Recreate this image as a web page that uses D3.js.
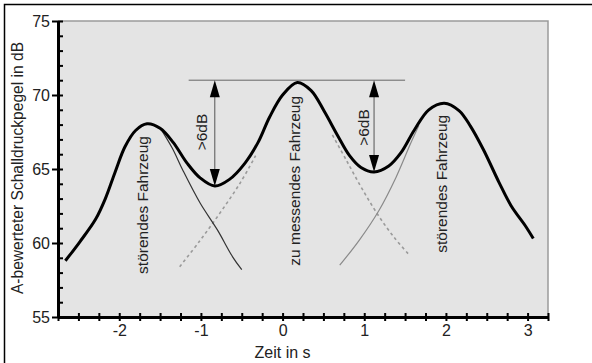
<!DOCTYPE html>
<html>
<head>
<meta charset="utf-8">
<script src="https://cdn.jsdelivr.net/npm/d3@7"></script>
<style>
  html, body { margin: 0; padding: 0; background: #fff; }
  svg { display: block; font-family: "Liberation Sans", Arial, sans-serif; }
</style>
</head>
<body>
<svg id="chart" width="592" height="363"></svg>
<script>
// Passing traffic: A-weighted level over time
const timeMain  = [-2.66, -2.48, -2.29, -2.17, -2.05, -1.93, -1.80, -1.66, -1.50, -1.34, -1.17, -1.01, -0.83, -0.65, -0.46, -0.30, -0.16, 0.00, 0.18, 0.35, 0.51, 0.67, 0.82, 0.96, 1.12, 1.30, 1.45, 1.61, 1.79, 1.98, 2.16, 2.30, 2.46, 2.65, 2.80, 2.98, 3.07];
const levelMain = [58.8, 60.1, 61.6, 63.0, 64.8, 66.5, 67.6, 68.05, 67.75, 66.8, 65.4, 64.4, 63.85, 64.3, 65.4, 66.8, 68.5, 70.0, 70.85, 70.3, 68.9, 67.3, 65.9, 65.1, 64.8, 65.2, 66.1, 67.6, 69.0, 69.45, 68.95, 67.9, 66.3, 64.1, 62.5, 61.1, 60.3];

// first disturbing vehicle, decaying flank
const timeDecay1  = [-1.50, -1.35, -1.22, -1.01, -0.80, -0.61, -0.50];
const levelDecay1 = [67.8, 66.4, 64.9, 62.7, 60.9, 59.05, 58.2];

// measured vehicle, rising flank
const timeRise0  = [-1.26, -1.02, -0.77, -0.52, -0.33];
const levelRise0 = [58.4, 60.1, 62.0, 64.05, 65.9];

// measured vehicle, decaying flank
const timeDecay0  = [0.61, 0.78, 0.98, 1.18, 1.37, 1.55];
const levelDecay0 = [67.3, 65.6, 63.6, 61.8, 60.35, 59.2];

// second disturbing vehicle, rising flank
const timeRise2  = [0.70, 0.94, 1.18, 1.39, 1.57, 1.67];
const levelRise2 = [58.5, 60.2, 62.2, 64.45, 66.75, 67.95];

const yTicks = [55, 60, 65, 70, 75];
const xTicks = [-2, -1, 0, 1, 2, 3];

// reference level and the two gaps
const refLevel = 71;
const refFrom = -1.15, refTo = 1.50;
const gapTimes = [-0.83, 1.12];
const gapLevels = [63.85, 64.8];
const gapLabel = ">6dB";
const gapLabelPos = [[-0.99, 67.5], [0.99, 67.8]];

const vehicleLabels = ["störendes Fahrzeug", "zu messendes Fahrzeug", "störendes Fahrzeug"];
const vehicleLabelPos = [[-1.71, 62.57], [0.15, 64.2], [1.95, 64.0]];

const svg = d3.select("#chart");
const L = 58, R = 548, T = 21, B = 317;

const x = d3.scaleLinear().domain([-2.75, 3.25]).range([L, R]);
const y = d3.scaleLinear().domain([55, 75]).range([B, T]);

// outer frame
svg.append("rect").attr("x", 4.5).attr("y", 4.5).attr("width", 600).attr("height", 370)
  .attr("fill", "none").attr("stroke", "#000").attr("stroke-width", 1.5);

// plot area
svg.append("rect").attr("x", L).attr("y", T).attr("width", R - L).attr("height", B - T)
  .attr("fill", "#e4e4e4");
svg.append("path").attr("d", `M${L},${T}H${R}V${B}`)
  .attr("fill", "none").attr("stroke", "#9a9a9a").attr("stroke-width", 1.5);

const line = (xs, ys) => d3.line()
  .x((d, i) => x(xs[i])).y((d, i) => y(ys[i]))
  .curve(d3.curveCatmullRom.alpha(0.5))(xs);

const g = svg.append("g");
g.append("path").attr("d", line(timeRise0, levelRise0))
  .attr("fill", "none").attr("stroke", "#9a9a9a").attr("stroke-width", 1.6).attr("stroke-dasharray", "3,3");
g.append("path").attr("d", line(timeDecay0, levelDecay0))
  .attr("fill", "none").attr("stroke", "#9a9a9a").attr("stroke-width", 1.6).attr("stroke-dasharray", "3,3");
g.append("path").attr("d", line(timeRise2, levelRise2))
  .attr("fill", "none").attr("stroke", "#8a8a8a").attr("stroke-width", 1.2);
g.append("path").attr("d", line(timeDecay1, levelDecay1))
  .attr("fill", "none").attr("stroke", "#333").attr("stroke-width", 1.2);
g.append("path").attr("d", line(timeMain, levelMain))
  .attr("fill", "none").attr("stroke", "#000").attr("stroke-width", 3);

// reference line
svg.append("line")
  .attr("x1", x(refFrom)).attr("x2", x(refTo))
  .attr("y1", y(refLevel)).attr("y2", y(refLevel))
  .attr("stroke", "#666").attr("stroke-width", 1);

// double arrows
const headLen = 17, headHalf = 5;
gapTimes.forEach((t, i) => {
  const ax = x(t), yTop = y(refLevel), yBot = y(gapLevels[i]);
  svg.append("line").attr("x1", ax).attr("x2", ax).attr("y1", yTop + 4).attr("y2", yBot - 4)
    .attr("stroke", "#555").attr("stroke-width", 1);
  svg.append("path")
    .attr("d", `M${ax},${yTop}L${ax - headHalf},${yTop + headLen}L${ax + headHalf},${yTop + headLen}Z`)
    .attr("fill", "#000");
  svg.append("path")
    .attr("d", `M${ax},${yBot}L${ax - headHalf},${yBot - headLen}L${ax + headHalf},${yBot - headLen}Z`)
    .attr("fill", "#000");
  const [lt, lv] = gapLabelPos[i];
  svg.append("text")
    .attr("transform", `translate(${x(lt)},${y(lv)}) rotate(-90)`)
    .attr("text-anchor", "middle").attr("dominant-baseline", "central")
    .attr("font-size", 15.5).attr("fill", "#222").text(gapLabel);
});

// vehicle labels
vehicleLabels.forEach((txt, i) => {
  const [lt, lv] = vehicleLabelPos[i];
  svg.append("text")
    .attr("transform", `translate(${x(lt)},${y(lv)}) rotate(-90)`)
    .attr("text-anchor", "middle").attr("dominant-baseline", "central")
    .attr("font-size", 15.5).attr("fill", "#222").text(txt);
});

// y axis
const yMinor = d3.range(55, 76, 1);
const yLeft = svg.append("g").attr("transform", `translate(${L},0)`)
  .call(d3.axisLeft(y).tickValues(yTicks).tickSizeInner(6).tickSizeOuter(0).tickPadding(2).tickFormat(d => String(d)));
const yRight = svg.append("g").attr("transform", `translate(${L},0)`)
  .call(d3.axisRight(y).tickValues(yMinor).tickSizeInner(5).tickSizeOuter(0).tickFormat(""));

// x axis
const xMinor = d3.range(-2.75, 3.26, 0.25);
const xBottom = svg.append("g").attr("transform", `translate(0,${B})`)
  .call(d3.axisBottom(x).tickValues(xMinor).tickSizeInner(4).tickSizeOuter(0).tickPadding(4)
    .tickFormat(d => xTicks.some(v => Math.abs(v - d) < 1e-9) ? String(Math.round(d)) : ""));
const xTop = svg.append("g").attr("transform", `translate(0,${B})`)
  .call(d3.axisTop(x).tickValues(xMinor).tickSizeInner(4).tickSizeOuter(0).tickFormat(""));

[yLeft, yRight, xBottom, xTop].forEach(a => {
  a.select(".domain").attr("stroke", "#000").attr("stroke-width", 3);
  a.selectAll(".tick line").attr("stroke", "#000").attr("stroke-width", 2);
  a.selectAll(".tick text").attr("font-size", 16).attr("fill", "#222")
    .attr("font-family", "Liberation Sans, Arial, sans-serif");
});

// axis titles
svg.append("text")
  .attr("transform", `translate(17,${(T + B) / 2 - 1}) rotate(-90)`)
  .attr("text-anchor", "middle").attr("dominant-baseline", "central")
  .attr("font-size", 15.6).attr("fill", "#222").text("A-bewerteter Schalldruckpegel in dB");
svg.append("text")
  .attr("x", x(0)).attr("y", 358).attr("text-anchor", "middle")
  .attr("font-size", 16).attr("fill", "#222").text("Zeit in s");
</script>
</body>
</html>
